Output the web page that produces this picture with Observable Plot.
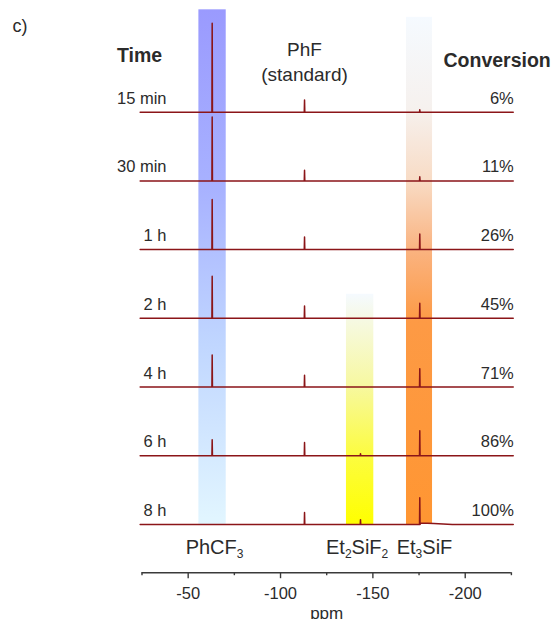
<!DOCTYPE html>
<html>
<head>
<meta charset="utf-8">
<script src="https://cdn.jsdelivr.net/npm/d3@7"></script>
<script src="https://cdn.jsdelivr.net/npm/@observablehq/plot@0.6"></script>
<style>
  html, body { margin: 0; padding: 0; background: #fff; }
  #chart { width: 553px; height: 619px; overflow: hidden; }
</style>
</head>
<body>
<div id="chart"></div>
<script>
// ---------- data ----------
const times = ["15 min", "30 min", "1 h", "2 h", "4 h", "6 h", "8 h"];
const conversions = ["6%", "11%", "26%", "45%", "71%", "86%", "100%"];

const peakNames = ["PhCF3", "PhF", "Et2SiF2", "Et3SiF"];
const peakPpm = [-63.0, -113.0, -143.3, -175.4];

// peak heights per spectrum (same order as times), arbitrary intensity units
const hPhCF3   = [129.5, 93.1, 72.8, 61.1, 46.6, 23.3, 0];
const hPhF     = [17.9, 15.5, 18.5, 17.9, 17.0, 19.4, 17.5];
const hEt2SiF2 = [0, 0, 0, 0, 0, 3, 7];
const hEt3SiF  = [3.5, 6.0, 22.8, 21.8, 26.8, 36.4, 38.9];

// small broad tail right of the Et3SiF peak in the last spectrum
const tailPpm = [-175.9, -183, -193];
const tailH = [2.0, 1.3, 0];

const spectrumFrom = -24, spectrumTo = -226;   // ppm span of each trace
const rowStep = 100;                            // vertical offset between traces

const bandNames = ["PhCF3", "Et2SiF2", "Et3SiF"];
const bandFrom = [-55.8, -135.7, -168.2];
const bandTo = [-70.6, -150.5, -182.3];
const bandTop = [749, 335, 738];
const bandBottom = [0, 0, 0];

const majorTicks = [-50, -100, -150, -200];
const minorTicks = [-25, -75, -125, -175, -225];

// ---------- build tables ----------
const heights = [hPhCF3, hPhF, hEt2SiF2, hEt3SiF];
const n = times.length;
const spectra = [];
const rows = times.map((t, i) => ({time: t, conv: conversions[i], base: (n - 1 - i) * rowStep}));
rows.forEach((r, i) => {
  const pts = [{x: spectrumFrom, v: 0}, {x: spectrumTo, v: 0}];
  peakPpm.forEach((p, k) => {
    const h = heights[k][i];
    if (h > 0) pts.push({x: p + 0.15, v: 0}, {x: p, v: h}, {x: p - 0.15, v: 0});
  });
  if (i === n - 1) tailPpm.forEach((p, k) => pts.push({x: p, v: tailH[k]}));
  pts.sort((a, b) => b.x - a.x);
  pts.forEach(d => spectra.push({time: r.time, x: d.x, y: r.base + d.v}));
});
const bands = bandNames.map((name, i) => ({name, from: bandFrom[i], to: bandTo[i], top: bandTop[i], bottom: bandBottom[i], center: (bandFrom[i] + bandTo[i]) / 2}));

// ---------- styles ----------
const gradients = [
  [[0, "#9a9afe"], [0.35, "#a8b2ff"], [0.65, "#c0d6ff"], [1, "#e2f6ff"]],
  [[0, "#f5faff"], [0.1, "#f6f9e6"], [0.4, "#f7f8a0"], [0.7, "#fcfc40"], [1, "#ffff00"]],
  [[0, "#f5faff"], [0.18, "#f6f1ee"], [0.32, "#f8dcc6"], [0.46, "#fab380"], [0.6, "#fd9a45"], [1, "#ff9632"]]
];
const labelDx = [2, -3, 5];
const ink = "#2b2b2b";
const font = "'Liberation Sans', Arial, Helvetica, sans-serif";
const yAxisVal = -70.2;

const plot = Plot.plot({
  width: 553,
  height: 619,
  marginLeft: 141.5,
  marginRight: 42.1,
  marginTop: 111.7,
  marginBottom: 46.8,
  x: {domain: [-25, -225], axis: null},
  y: {domain: [yAxisVal, 600], axis: null},
  style: {fontFamily: font, color: ink, background: "white", overflow: "visible"},
  marks: [
    ...bands.map((b, i) => Plot.rect([b], {x1: "from", x2: "to", y1: "bottom", y2: "top", fill: `url(#band${i})`})),
    Plot.line(spectra, {x: "x", y: "y", z: "time", stroke: "#8b1518", strokeWidth: 1.5}),
    // axis
    Plot.ruleY([yAxisVal], {x1: minorTicks[0], x2: minorTicks[minorTicks.length - 1], stroke: "#3a3a3a", strokeWidth: 1.4}),
    Plot.axisX({ticks: majorTicks, anchor: "bottom", tickSize: 6, tickPadding: 9, tickFormat: d => `${d}`, fontSize: 16.5, label: null, stroke: "#3a3a3a", strokeWidth: 1.4, fill: ink}),
    Plot.axisX({ticks: minorTicks, anchor: "bottom", tickSize: 3, tickFormat: () => "", label: null, stroke: "#3a3a3a", strokeWidth: 1.4}),
    Plot.text(["ppm"], {frameAnchor: "bottom", text: d => d, dy: 46, lineAnchor: "bottom", fontSize: 17, fill: ink}),
    // row labels
    Plot.text(rows, {frameAnchor: "left", y: "base", text: "time", textAnchor: "end", dx: 24.5, dy: -8.5, lineAnchor: "bottom", fontSize: 16.5, fill: ink}),
    Plot.text(rows, {frameAnchor: "right", y: "base", text: "conv", textAnchor: "end", dx: 2.4, dy: -8.5, lineAnchor: "bottom", fontSize: 16.5, fill: ink}),
    // headers
    Plot.text(["c)"], {frameAnchor: "top-left", text: d => d, dx: -129.5, dy: -80.7, textAnchor: "start", lineAnchor: "bottom", fontSize: 18, fill: ink}),
    Plot.text(["Time"], {frameAnchor: "top-left", text: d => d, dx: -25, dy: -49.7, textAnchor: "start", lineAnchor: "bottom", fontSize: 19.5, fontWeight: "bold", fill: ink}),
    Plot.text(["Conversion"], {frameAnchor: "top-left", text: d => d, dx: 301.5, dy: -45.2, textAnchor: "start", lineAnchor: "bottom", fontSize: 19.5, fontWeight: "bold", fill: ink}),
    Plot.text([peakNames[1]], {x: peakPpm[1], y: rows[0].base, text: d => d, dy: -55.7, lineAnchor: "bottom", fontSize: 19, fill: ink}),
    Plot.text(["(standard)"], {x: peakPpm[1], y: rows[0].base, text: d => d, dy: -31.7, lineAnchor: "bottom", fontSize: 19, fill: ink}),
    // compound labels under the bands
    ...bands.map((b, i) => Plot.text([b], {x: "center", y: "bottom", text: "name", dx: labelDx[i], dy: 29.3, lineAnchor: "bottom", fontSize: 20, fill: ink}))
  ]
});

// gradients for the highlight bands
const ns = "http://www.w3.org/2000/svg";
const defs = document.createElementNS(ns, "defs");
gradients.forEach((stops, i) => {
  const g = document.createElementNS(ns, "linearGradient");
  g.setAttribute("id", `band${i}`);
  g.setAttribute("x1", "0"); g.setAttribute("y1", "0");
  g.setAttribute("x2", "0"); g.setAttribute("y2", "1");
  stops.forEach(([o, c]) => {
    const s = document.createElementNS(ns, "stop");
    s.setAttribute("offset", o);
    s.setAttribute("stop-color", c);
    g.appendChild(s);
  });
  defs.appendChild(g);
});
plot.insertBefore(defs, plot.firstChild);

// subscript digits in chemical formulas
plot.querySelectorAll("text").forEach(t => {
  const s = t.textContent;
  if (!bandNames.includes(s)) return;
  t.textContent = "";
  let sub = false;
  for (const part of s.split(/(\d)/).filter(p => p !== "")) {
    const ts = document.createElementNS(ns, "tspan");
    ts.textContent = part;
    if (/\d/.test(part)) {
      ts.setAttribute("font-size", "12");
      ts.setAttribute("dy", "4");
      sub = true;
    } else if (sub) {
      ts.setAttribute("dy", "-4");
      sub = false;
    }
    t.appendChild(ts);
  }
});

document.getElementById("chart").appendChild(plot);
</script>
</body>
</html>
